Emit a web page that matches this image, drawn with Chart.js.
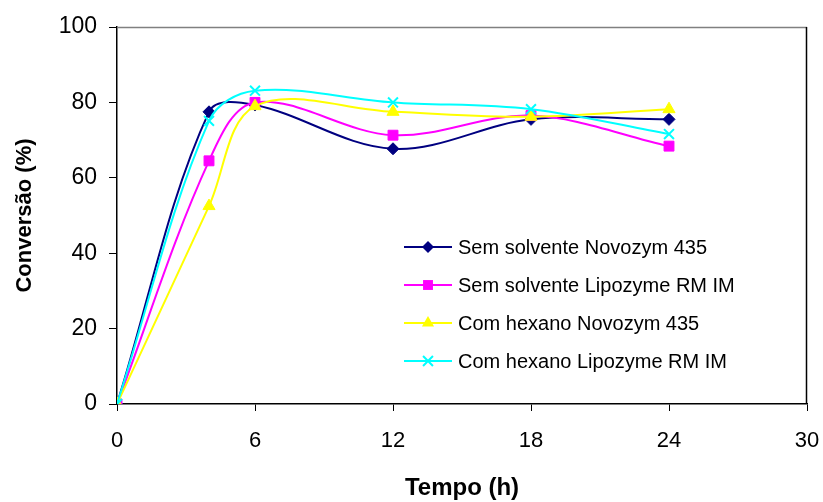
<!DOCTYPE html>
<html>
<head>
<meta charset="utf-8">
<script src="https://cdn.jsdelivr.net/npm/chart.js@4/dist/chart.umd.min.js"></script>
<style>
html,body{margin:0;padding:0;background:#fff;}
#wrap{width:823px;height:502px;}
</style>
</head>
<body>
<div id="wrap"><canvas id="c" width="823" height="502"></canvas></div>
<script>
// ---- data ----
const tempo = [0, 4, 6, 12, 18, 24];
const semSolventeNovozym = [0, 77.5, 79.3, 67.7, 75.5, 75.5];
const semSolventeLipozyme = [0, 64.5, 80, 71.3, 76.5, 68.4];
const comHexanoNovozym = [0, 52.5, 79, 77.5, 76.2, 78.2];
const comHexanoLipozyme = [0, 75.1, 83.1, 80, 78.2, 71.6];
const seriesLabels = ['Sem solvente Novozym 435', 'Sem solvente Lipozyme RM IM', 'Com hexano Novozym 435', 'Com hexano Lipozyme RM IM'];
const xTicks = [0, 6, 12, 18, 24, 30];
const yTicks = [0, 20, 40, 60, 80, 100];
const xTitle = 'Tempo (h)';
const yTitle = 'Conversão (%)';

const FONT = '"Liberation Sans", Arial, sans-serif';

function pts(vals){ return tempo.map((t,i)=>({x:t, y:vals[i]})); }

const styles = [
  {color:'#000080', pointStyle:'rectRot', radius:6, order:4},
  {color:'#FF00FF', pointStyle:'rect', radius:7, order:3},
  {color:'#FFFF00', pointStyle:'triangle', radius:7, order:2},
  {color:'#00FFFF', pointStyle:'crossRot', radius:7, order:1}
];
const allValues = [semSolventeNovozym, semSolventeLipozyme, comHexanoNovozym, comHexanoLipozyme];

const datasets = allValues.map((v,i)=>({
  label: seriesLabels[i],
  data: pts(v),
  borderColor: styles[i].color,
  backgroundColor: styles[i].color,
  pointBackgroundColor: styles[i].color,
  pointBorderColor: styles[i].color,
  pointStyle: styles[i].pointStyle,
  pointRadius: styles[i].radius,
  pointBorderWidth: styles[i].pointStyle === 'crossRot' ? 2 : 1,
  borderWidth: 2,
  tension: 0.35,
  fill: false,
  order: styles[i].order
}));

function drawMarker(ctx, style, x, y, r, color){
  ctx.save();
  ctx.fillStyle = color; ctx.strokeStyle = color; ctx.lineWidth = 2;
  ctx.beginPath();
  if (style === 'rectRot'){
    ctx.moveTo(x, y-r); ctx.lineTo(x+r, y); ctx.lineTo(x, y+r); ctx.lineTo(x-r, y); ctx.closePath(); ctx.fill();
  } else if (style === 'rect'){
    const s = r*Math.SQRT1_2; ctx.rect(x-s, y-s, 2*s, 2*s); ctx.fill();
  } else if (style === 'triangle'){
    ctx.moveTo(x, y - r); ctx.lineTo(x + r*0.866, y + r*0.5); ctx.lineTo(x - r*0.866, y + r*0.5); ctx.closePath(); ctx.fill();
  } else if (style === 'crossRot'){
    const s = r*Math.SQRT1_2;
    ctx.moveTo(x-s, y-s); ctx.lineTo(x+s, y+s); ctx.moveTo(x+s, y-s); ctx.lineTo(x-s, y+s); ctx.stroke();
  }
  ctx.restore();
}

const customLegend = {
  id: 'customLegend',
  afterDraw(chart, args, opts){
    const ctx = chart.ctx;
    ctx.save();
    ctx.font = '20px ' + FONT;
    ctx.textBaseline = 'middle';
    ctx.textAlign = 'left';
    chart.data.datasets.forEach((ds, i) => {
      const y = opts.y0 + i * opts.dy;
      ctx.strokeStyle = ds.borderColor; ctx.lineWidth = 2;
      ctx.beginPath(); ctx.moveTo(opts.x0, y); ctx.lineTo(opts.x1, y); ctx.stroke();
      drawMarker(ctx, ds.pointStyle, (opts.x0+opts.x1)/2, y, ds.pointRadius, ds.borderColor);
      ctx.fillStyle = '#000';
      ctx.fillText(ds.label, opts.x1 + 6, y + 1);
    });
    ctx.restore();
  }
};

const frame = {
  id: 'frame',
  afterDraw(chart){
    const a = chart.chartArea, ctx = chart.ctx;
    ctx.save();
    ctx.lineWidth = 1.5;
    ctx.strokeStyle = '#808080';
    ctx.beginPath(); ctx.moveTo(a.left, a.top + 0.5); ctx.lineTo(a.right, a.top + 0.5); ctx.stroke();
    ctx.strokeStyle = '#000';
    ctx.lineWidth = 1.5;
    ctx.beginPath(); ctx.moveTo(a.right - 0.5, a.top); ctx.lineTo(a.right - 0.5, a.bottom); ctx.stroke();
    ctx.restore();
  }
};

new Chart(document.getElementById('c'), {
  type: 'line',
  data: { datasets },
  plugins: [customLegend, frame],
  options: {
    responsive: false,
    animation: false,
    events: [],
    layout: { padding: { left: 0, right: 16, top: 27, bottom: 0 } },
    plugins: {
      legend: { display: false },
      tooltip: { enabled: false },
      customLegend: { x0: 404, x1: 452, y0: 247, dy: 38 }
    },
    scales: {
      x: {
        type: 'linear', min: 0, max: 30,
        afterBuildTicks: s => { s.ticks = xTicks.map(v => ({value: v})); },
        afterFit: s => { s.height = 98; s.paddingLeft = 0; s.paddingRight = 0; },
        ticks: { color: '#000', font: { family: FONT, size: 22 }, padding: 17, maxRotation: 0 },
        grid: { display: true, drawOnChartArea: false, drawTicks: true, tickLength: 7, color: '#000', lineWidth: 1 },
        border: { display: true, color: '#000', width: 1.5 },
        title: { display: true, text: xTitle, color: '#000', font: { family: FONT, size: 24, weight: 'bold', lineHeight: 1.1 }, padding: { top: 0, bottom: 0 } }
      },
      y: {
        type: 'linear', min: 0, max: 100,
        afterBuildTicks: s => { s.ticks = yTicks.map(v => ({value: v})); },
        afterFit: s => { s.width = 117; s.paddingTop = 0; s.paddingBottom = 0; },
        ticks: { color: '#000', font: { family: FONT, size: 23 }, padding: 12 },
        grid: { display: true, drawOnChartArea: false, drawTicks: true, tickLength: 8, color: '#000', lineWidth: 1 },
        border: { display: true, color: '#000', width: 1.5 },
        title: { display: true, text: yTitle, color: '#000', font: { family: FONT, size: 22, weight: 'bold', lineHeight: 1.2 }, padding: { top: 12, bottom: 0 } }
      }
    }
  }
});
</script>
</body>
</html>
